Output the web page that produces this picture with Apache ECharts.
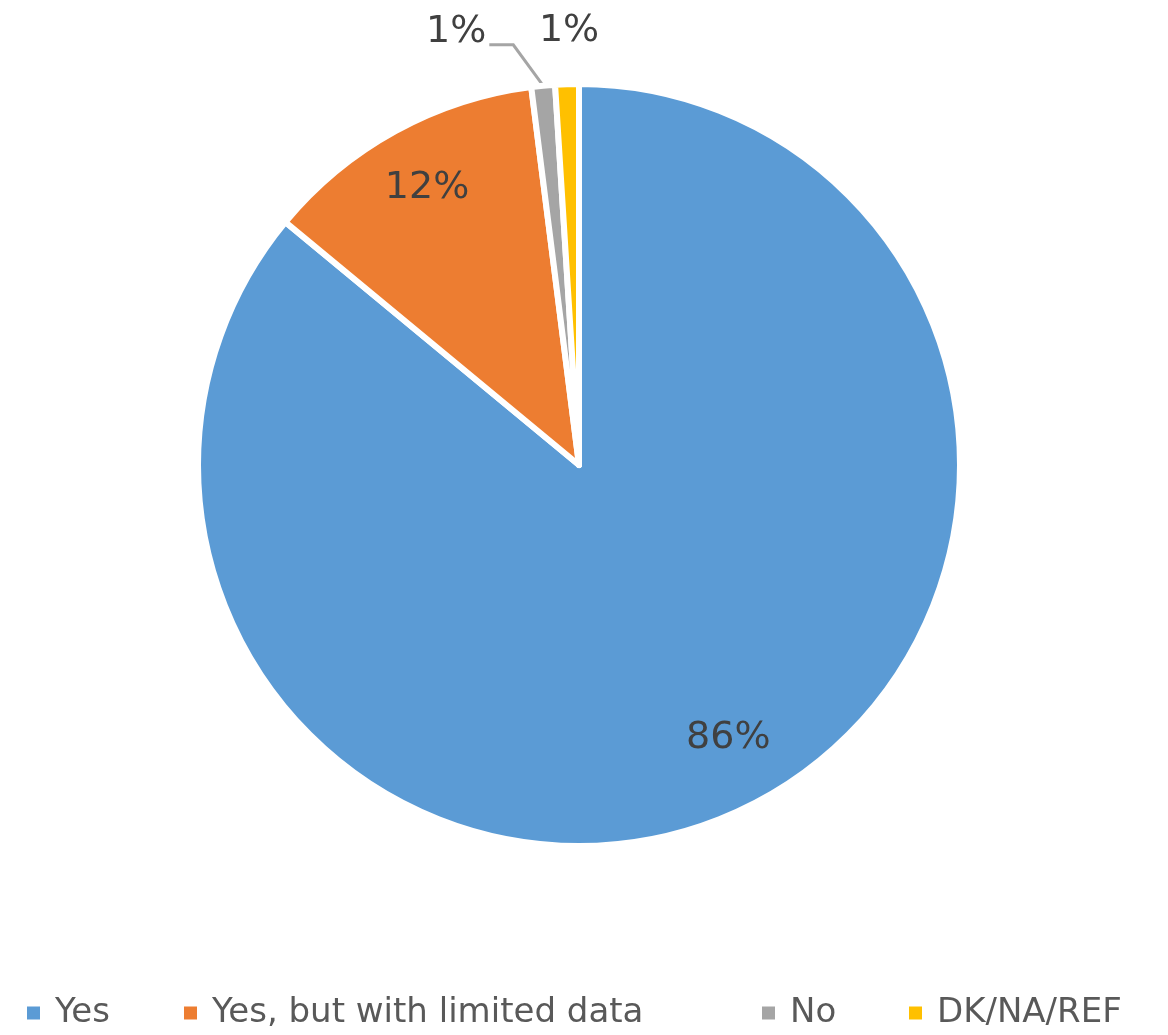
<!DOCTYPE html>
<html>
<head>
<meta charset="utf-8">
<script src="https://cdn.jsdelivr.net/npm/echarts@6/dist/echarts.min.js"></script>
<style>
  html, body { margin: 0; padding: 0; background: #ffffff; }
  #chart { width: 1168px; height: 1035px; }
</style>
</head>
<body>
<div id="chart"></div>
<script>
// Survey answers and their shares (percent)
const categories = ['Yes', 'Yes, but with limited data', 'No', 'DK/NA/REF'];
const shares = [86, 12, 1, 1];
const colors = ['#5B9BD5', '#ED7D31', '#A5A5A5', '#FFC000'];
// slices whose percentage sits inside the pie; the rest are labelled outside
const insideLabel = [true, true, false, false];
// left edge of each legend entry along the bottom row
const legendLeft = [20, 177, 755, 902];

const FONT = 'DejaVu Sans';
const CX = 579, CY = 465, R = 381;

const chart = echarts.init(document.getElementById('chart'), null, { renderer: 'canvas' });

const pctFormatter = p => p.value + '%';

// main pie: colour fills plus the outside labels for the thin slices
const mainData = categories.map((name, i) => ({
  name: name,
  value: shares[i],
  itemStyle: { color: colors[i] },
  label: { show: !insideLabel[i] },
  labelLine: { show: i === 2 }
}));

// invisible ring used only to place the inner labels near the rim
const ringData = categories.map((name, i) => ({
  name: name,
  value: shares[i],
  label: { show: insideLabel[i] }
}));

const legends = categories.map((name, i) => ({
  data: [name],
  left: legendLeft[i],
  top: 988,
  orient: 'horizontal',
  icon: 'rect',
  itemWidth: 15,
  itemHeight: 15,
  selectedMode: false,
  textStyle: {
    fontFamily: FONT,
    fontSize: 34,
    lineHeight: 40,
    color: '#595959',
    padding: [0, 0, 0, 9]
  }
}));

chart.setOption({
  backgroundColor: '#ffffff',
  animation: false,
  legend: legends,
  series: [
    {
      name: 'answers',
      type: 'pie',
      center: [CX, CY],
      radius: [0, R],
      startAngle: 90,
      clockwise: true,
      avoidLabelOverlap: false,
      data: mainData,
      itemStyle: { borderColor: '#ffffff', borderWidth: 6 },
      label: {
        position: 'outside',
        formatter: pctFormatter,
        fontFamily: FONT,
        fontSize: 38,
        color: '#404040',
        distanceToLabelLine: 5
      },
      labelLine: {
        length: 41,
        length2: 48,
        smooth: false,
        lineStyle: { color: '#A5A5A5', width: 3 }
      },
      labelLayout: function (p) {
        if (p.dataIndex === 3) {
          // small slice at the top: label centred just above it
          return {
            x: p.rect.x + p.rect.width / 2 + 2,
            y: p.rect.y - 50,
            align: 'center',
            verticalAlign: 'middle'
          };
        }
        if (p.dataIndex === 2 && p.labelLinePoints) {
          const pts = p.labelLinePoints;
          return {
            dy: -13,
            labelLinePoints: [
              pts[0],
              [pts[1][0] - 26, pts[1][1]],
              [pts[2][0] - 2, pts[2][1]]
            ]
          };
        }
      },
      emphasis: { disabled: true }
    },
    {
      name: 'inner labels',
      type: 'pie',
      center: [CX, CY],
      radius: [R * 0.64, R],
      startAngle: 90,
      clockwise: true,
      silent: true,
      data: ringData,
      itemStyle: { color: 'rgba(0,0,0,0)', borderWidth: 0 },
      label: {
        position: 'inside',
        formatter: pctFormatter,
        fontFamily: FONT,
        fontSize: 38,
        color: '#404040'
      },
      labelLine: { show: false },
      labelLayout: function (p) {
        // the large slice's label sits a little up and to the right of its mid-angle
        if (p.dataIndex === 0) {
          return { dx: 15, dy: -12 };
        }
      },
      emphasis: { disabled: true }
    }
  ]
});
</script>
</body>
</html>
